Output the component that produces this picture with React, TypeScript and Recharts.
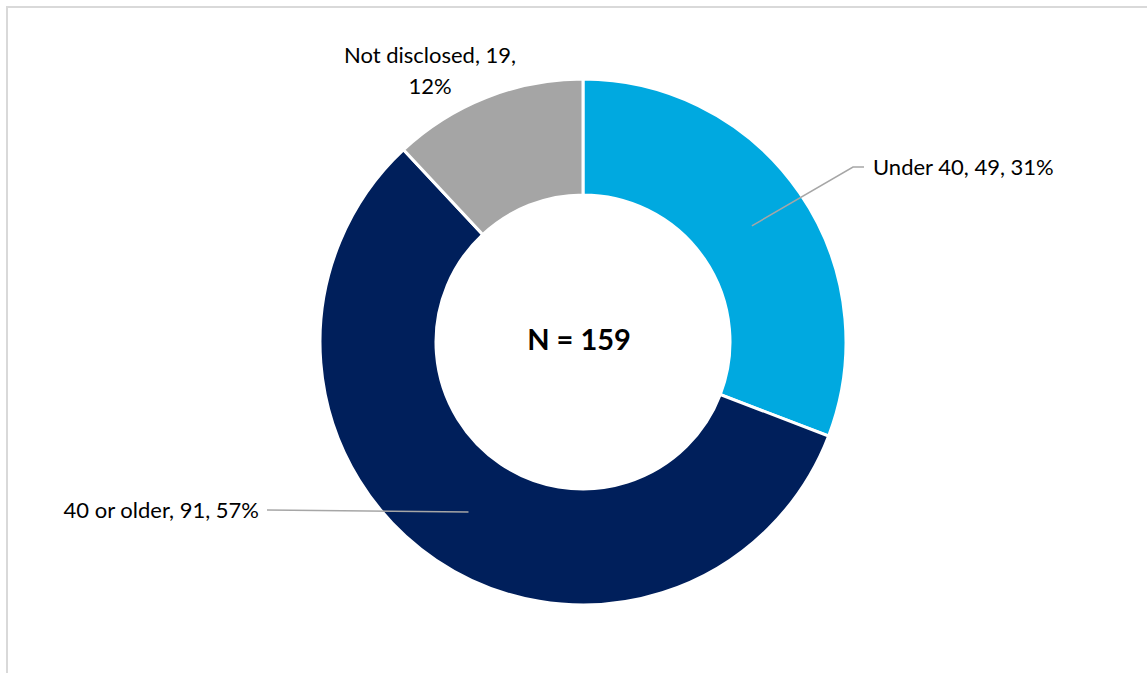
import { PieChart, Pie, Cell } from 'recharts';

const categories = ['Under 40', '40 or older', 'Not disclosed'];
const counts = [49, 91, 19];
const colors = ['#00A9E0', '#001F5B', '#A5A5A5'];
const totalLabel = 'N = 159';

const data = categories.map((name, i) => ({ name, value: counts[i] }));

const RAD = Math.PI / 180;
const FONT = 'Lato, sans-serif';

const renderLabel = (props: any) => {
  const { cx, cy, midAngle, innerRadius, outerRadius, index, name, value, percent } = props;
  const r = (innerRadius + outerRadius) / 2;
  const mx = cx + r * Math.cos(-midAngle * RAD);
  const my = cy + r * Math.sin(-midAngle * RAD);
  const pct = Math.round(percent * 100);
  const text = `${name}, ${value}, ${pct}%`;

  if (index === 0) {
    const ex = cx + 270;
    const ey = cy - 175;
    return (
      <g>
        <polyline points={`${mx},${my} ${ex},${ey} ${ex + 11},${ey}`} fill="none" stroke="#A6A6A6" strokeWidth={1.5} />
        <text x={ex + 20} y={ey} dy="0.35em" textAnchor="start" fill="#000" fontSize={22} fontFamily={FONT}>
          {text}
        </text>
      </g>
    );
  }
  if (index === 1) {
    const ex = cx - 316;
    const ey = cy + 168;
    return (
      <g>
        <polyline points={`${mx},${my} ${ex},${ey}`} fill="none" stroke="#A6A6A6" strokeWidth={1.5} />
        <text x={ex - 8} y={ey} dy="0.35em" textAnchor="end" fill="#000" fontSize={22} fontFamily={FONT}>
          {text}
        </text>
      </g>
    );
  }
  return (
    <text x={cx - 153} y={cy - 287} textAnchor="middle" fill="#000" fontSize={22} fontFamily={FONT}>
      <tspan x={cx - 153} dy="0.35em">{`${name}, ${value},`}</tspan>
      <tspan x={cx - 153} dy={31}>{`${pct}%`}</tspan>
    </text>
  );
};

export default function App() {
  return (
    <div style={{ position: 'fixed', left: 0, top: 0, width: 1147, height: 673, overflow: 'hidden', background: '#fff' }}>
      <div
        style={{
          position: 'absolute',
          left: 6,
          top: 6,
          width: 1200,
          height: 700,
          border: '2px solid #D9D9D9',
          boxSizing: 'border-box',
        }}
      />
      <div style={{ position: 'absolute', left: 0, top: 0 }}>
        <PieChart width={1147} height={673} margin={{ top: 0, right: 0, bottom: 0, left: 0 }}>
          <Pie
            data={data}
            dataKey="value"
            nameKey="name"
            cx={583}
            cy={342}
            innerRadius={147}
            outerRadius={263}
            startAngle={90}
            endAngle={-270}
            stroke="#fff"
            strokeWidth={3}
            label={renderLabel}
            labelLine={false}
            isAnimationActive={false}
          >
            {data.map((d, i) => (
              <Cell key={d.name} fill={colors[i]} />
            ))}
          </Pie>
          <text x={579} y={340} dy="0.35em" textAnchor="middle" fontSize={29} fontWeight={700} fontFamily={FONT} fill="#000">
            {totalLabel}
          </text>
        </PieChart>
      </div>
    </div>
  );
}
